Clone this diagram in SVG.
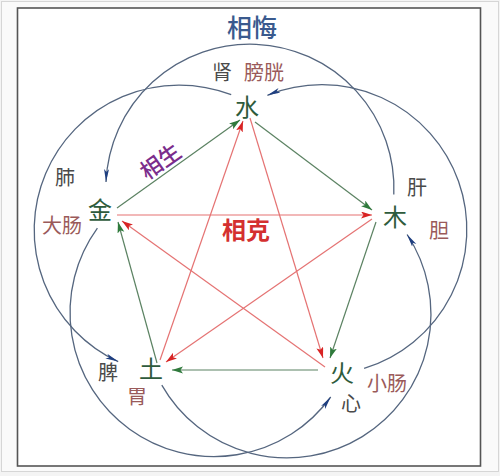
<svg xmlns="http://www.w3.org/2000/svg" width="500" height="476" viewBox="0 0 500 476">
<style>
text{font-family:"Noto Sans CJK SC","Noto Sans CJK TC",sans-serif;text-anchor:middle}
.el{font-size:24px;fill:#2e5b3c}
.zang{font-size:20px;fill:#4a4a4a}
.fu{font-size:20px;fill:#9a5a5a}
.g{stroke:#5b8262;stroke-width:1.2;fill:none;marker-end:url(#ag)}
.r{stroke:#e57373;stroke-width:1.2;fill:none;marker-end:url(#ar)}
.b{stroke:#55667f;stroke-width:1.3;fill:none;marker-end:url(#ab)}
</style>
<defs>
<marker id="ag" markerUnits="userSpaceOnUse" markerWidth="12" markerHeight="8" refX="11" refY="3.5" orient="auto"><path d="M0,0 L11,3.5 L0,7 L2.5,3.5 z" fill="#2f7a3c"/></marker>
<marker id="ar" markerUnits="userSpaceOnUse" markerWidth="12" markerHeight="8" refX="11" refY="3.5" orient="auto"><path d="M0,0 L11,3.5 L0,7 L2.5,3.5 z" fill="#d82424"/></marker>
<marker id="ab" markerUnits="userSpaceOnUse" markerWidth="14" markerHeight="6" refX="13" refY="2.5" orient="auto"><path d="M0,0 L13,2.5 L0,5 L3,2.5 z" fill="#1f3f80"/></marker>
</defs>
<rect x="0" y="0" width="500" height="476" fill="#f4f4f4"/>
<rect x="1.5" y="1.5" width="497" height="470" fill="#fafafa" stroke="#d6d6d6" stroke-width="1"/>
<rect x="17.5" y="8" width="463" height="458" fill="#ffffff" stroke="#555555" stroke-width="1.6"/>
<g id="connectors">
<g id="xiangwu">
<path class="b" d="M 393.8 194.5 A 144 144 0 1 0 106 182"/>
<path class="b" d="M 231.2 94.7 A 145 145 0 0 0 118.2 361.6"/>
<path class="b" d="M 97.4 228.1 A 144 144 0 1 0 330.7 397"/>
<path class="b" d="M 161.8 385.1 A 144 144 0 1 0 407.1 234.5"/>
<path class="b" d="M 364.1 368.4 A 145 145 0 1 0 267.4 95.3"/>
</g>
<g id="xiangke">
<line class="r" x1="117" y1="215" x2="372" y2="215"/>
<line class="r" x1="372" y1="219" x2="166" y2="362"/>
<line class="r" x1="160" y1="360" x2="243" y2="121"/>
<line class="r" x1="250" y1="118" x2="323" y2="358"/>
<line class="r" x1="325" y1="367" x2="122" y2="221"/>
</g>
<g id="xiangsheng">
<line class="g" x1="117" y1="208" x2="240" y2="120"/>
<line class="g" x1="255" y1="122" x2="372" y2="210"/>
<line class="g" x1="376" y1="222" x2="330" y2="358"/>
<line class="g" x1="318" y1="370" x2="172" y2="370"/>
<line class="g" x1="157" y1="363" x2="118" y2="222"/>
</g>
</g>
<g id="labels">
<text x="252" y="37" font-size="25" fill="#3a5a8e" font-weight="500">相悔</text>
<text x="0" y="0" font-size="22" fill="#7b2d8c" font-weight="500" transform="translate(165,168) rotate(-35)">相生</text>
<text x="246" y="239" font-size="24" fill="#d43030" font-weight="bold">相克</text>
</g>
<g id="node-shui">
<text class="el" x="247" y="116">水</text>
<text class="zang" x="222" y="80">肾</text>
<text class="fu" x="264" y="80">膀胱</text>
</g>
<g id="node-mu">
<text class="el" x="395" y="226">木</text>
<text class="zang" x="417" y="195">肝</text>
<text class="fu" x="439" y="238">胆</text>
</g>
<g id="node-huo">
<text class="el" x="342" y="382">火</text>
<text class="zang" x="351" y="411">心</text>
<text class="fu" x="387" y="391">小肠</text>
</g>
<g id="node-tu">
<text class="el" x="151" y="378">土</text>
<text class="zang" x="108" y="380">脾</text>
<text class="fu" x="137" y="404">胃</text>
</g>
<g id="node-jin">
<text class="el" x="100" y="219">金</text>
<text class="zang" x="65" y="185">肺</text>
<text class="fu" x="62" y="233">大肠</text>
</g>
</svg>
